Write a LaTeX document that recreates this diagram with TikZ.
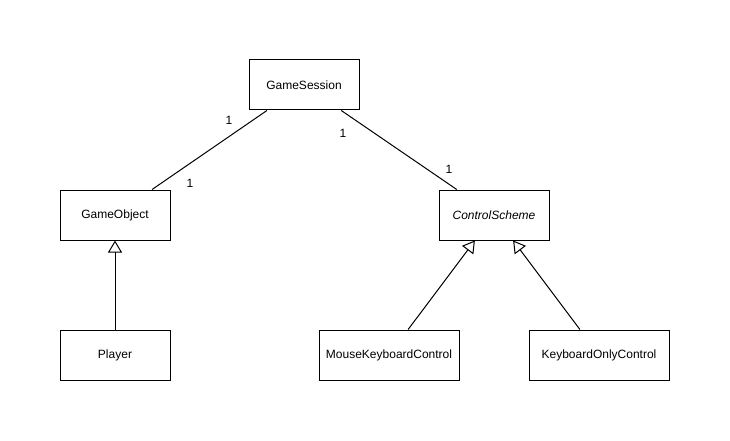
\documentclass[tikz,border=0pt]{standalone}
\usepackage{fontspec}
\setmainfont{Liberation Sans}
\usepackage{tikz}
\usetikzlibrary{arrows.meta,positioning}
\tikzset{
  clsbox/.style={draw,line width=1pt,align=center,inner sep=2pt,minimum width=110pt,minimum height=50pt,font=\fontsize{12}{14}\selectfont},
  clswide/.style={clsbox,minimum width=140pt},
  mult/.style={inner sep=0pt,font=\fontsize{12}{14}\selectfont},
  assoc/.style={line width=1pt},
  inh/.style={-{Triangle[open,length=12pt,width=14pt]},line width=1pt}
}
\begin{document}
\begin{tikzpicture}[x=1pt,y=-1pt]
  \useasboundingbox (0,0) rectangle (730,441);
  %% classes
  \node[clsbox] (sess) at (304,85) {GameSession};
  \node[clsbox] (obj) at (115,215) {GameObject};
  \node[clsbox,font=\fontsize{12}{14}\selectfont\itshape] (ctl) at (494,215) {ControlScheme};
  \node[clsbox] (plr) at (115,355) {Player};
  \node[clswide] (mkc) at (389,355) {MouseKeyboardControl};
  \node[clswide] (koc) at (599,355) {KeyboardOnlyControl};
  %% associations
  \draw[assoc](sess)--(obj);\draw[assoc](sess)--(ctl);
  \node[mult] (m1) at (229,120) {1};
  \node[mult] (m2) at (190,183) {1};
  \node[mult] (m3) at (343,133) {1};
  \node[mult] (m4) at (449,169) {1};
  %% generalisation
  \draw[inh](plr)--(obj);\draw[inh](mkc)--(ctl);\draw[inh](koc)--(ctl);
\end{tikzpicture}
\end{document}
